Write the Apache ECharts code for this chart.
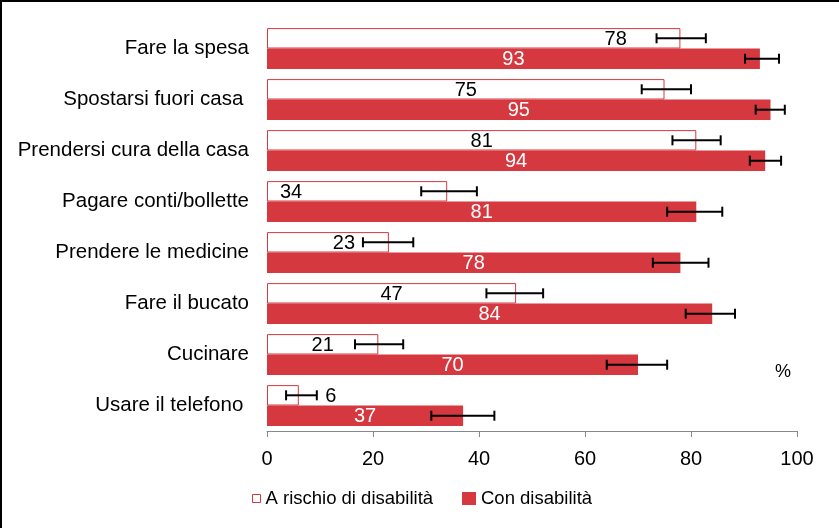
<!DOCTYPE html>
<html>
<head>
<meta charset="utf-8">
<script src="https://cdn.jsdelivr.net/npm/echarts@6/dist/echarts.min.js"></script>
<style>
html,body{margin:0;padding:0;background:#fff;}
#chart{width:839px;height:528px;}
</style>
</head>
<body>
<div id="chart"></div>
<script>
const categories = ['Fare la spesa', 'Spostarsi fuori casa ', 'Prendersi cura della casa', 'Pagare conti/bollette', 'Prendere le medicine', 'Fare il bucato', 'Cucinare', 'Usare il telefono '];
const seriesNames = ['A rischio di disabilità', 'Con disabilità'];
const rischio = [78, 75, 81, 34, 23, 47, 21, 6];
const conDis = [93, 95, 94, 81, 78, 84, 70, 37];
const rischioLow = [73.5, 70.7, 76.5, 29.1, 18.1, 41.4, 16.6, 3.6];
const rischioHigh = [82.8, 80.0, 85.6, 39.6, 27.6, 52.1, 25.7, 9.4];
const conLow = [90.2, 92.2, 91.1, 75.5, 72.8, 79.0, 64.1, 31.0];
const conHigh = [96.6, 97.7, 97.0, 85.9, 83.3, 88.3, 75.5, 42.9];
const xTicks = [0, 20, 40, 60, 80, 100];

// label horizontal shifts (styling only)
const rischioLabelShift = [142, 0, 0, -66, 16, 0, 0, 48];

const RED = '#D5383F';
const FONT = '"Liberation Sans", Arial, sans-serif';

const chart = echarts.init(document.getElementById('chart'), null, {renderer: 'canvas'});

function errSeries(low, high, shift) {
  return {
    type: 'custom',
    z: 10,
    silent: true,
    data: low.map((l, i) => [i, l, high[i]]),
    encode: {x: [1, 2], y: 0},
    renderItem: function (params, api) {
      const idx = api.value(0);
      const p1 = api.coord([api.value(1), idx]);
      const p2 = api.coord([api.value(2), idx]);
      const band = api.size([0, 1])[1];
      const y = p1[1] + shift * band;
      const h = 5;
      const st = {stroke: '#000', lineWidth: 2};
      return {
        type: 'group',
        children: [
          {type: 'line', shape: {x1: p1[0], y1: y, x2: p2[0], y2: y}, style: st},
          {type: 'line', shape: {x1: p1[0], y1: y - h, x2: p1[0], y2: y + h}, style: st},
          {type: 'line', shape: {x1: p2[0], y1: y - h, x2: p2[0], y2: y + h}, style: st}
        ]
      };
    }
  };
}

const legendText = {fontFamily: FONT, fontSize: 18.5, color: '#000'};

const option = {
  animation: false,
  backgroundColor: '#fff',
  textStyle: {fontFamily: FONT},
  grid: {left: 267, right: 42, top: 23, bottom: 97, containLabel: false},
  legend: [
    {
      left: 247, top: 484,
      itemWidth: 8, itemHeight: 8,
      textStyle: legendText,
      data: [{name: seriesNames[0], icon: 'rect', itemStyle: {color: '#fff', borderColor: RED, borderWidth: 1}}]
    },
    {
      left: 457, top: 484,
      itemWidth: 14, itemHeight: 13,
      textStyle: legendText,
      data: [{name: seriesNames[1], icon: 'rect', itemStyle: {color: RED}}]
    }
  ],
  xAxis: {
    type: 'value', min: xTicks[0], max: xTicks[xTicks.length - 1], interval: 20,
    splitLine: {show: false},
    axisLine: {show: true, lineStyle: {color: '#888', width: 1}},
    axisTick: {show: true, length: 6, lineStyle: {color: '#888'}},
    axisLabel: {fontFamily: FONT, fontSize: 20, color: '#000', margin: 18}
  },
  yAxis: {
    type: 'category', data: categories, inverse: true,
    axisLine: {show: false}, axisTick: {show: false},
    axisLabel: {fontFamily: FONT, fontSize: 20.5, color: '#000', margin: 18}
  },
  series: [
    {
      name: seriesNames[0], type: 'bar', barWidth: '40%', barGap: '0%',
      itemStyle: {color: '#fff', borderColor: RED, borderWidth: 1},
      label: {show: true, position: 'inside', color: '#000', fontFamily: FONT, fontSize: 20},
      data: rischio.map((v, i) => ({value: v, label: {offset: [rischioLabelShift[i], 1]}}))
    },
    {
      name: seriesNames[1], type: 'bar', barWidth: '40%', barGap: '0%',
      itemStyle: {color: RED},
      label: {show: true, position: 'inside', color: '#fff', fontFamily: FONT, fontSize: 20, offset: [0, 1]},
      data: conDis
    },
    errSeries(rischioLow, rischioHigh, -0.2),
    errSeries(conLow, conHigh, 0.2)
  ],
  graphic: [
    {type: 'text', left: 775, top: 363, style: {text: '%', font: '18px ' + FONT, fill: '#000'}},
    {type: 'line', shape: {x1: 0, y1: 1, x2: 839, y2: 1}, style: {stroke: '#000', lineWidth: 2}},
    {type: 'line', shape: {x1: 1, y1: 0, x2: 1, y2: 528}, style: {stroke: '#000', lineWidth: 2}}
  ]
};
chart.setOption(option);
</script>
</body>
</html>
